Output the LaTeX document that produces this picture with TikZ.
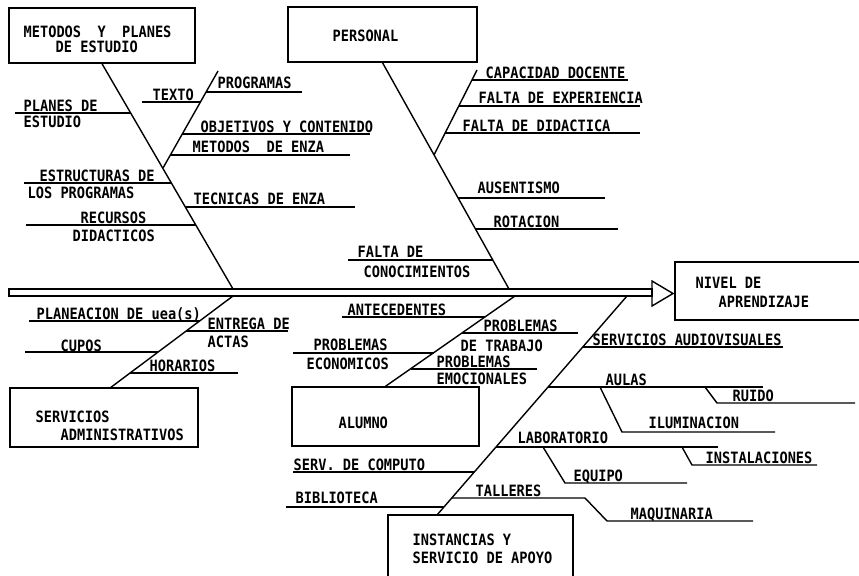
\documentclass[tikz,border=0pt]{standalone}
\usepackage{fontspec}
\newfontfamily\fishfont[FakeStretch=0.875]{DejaVu Sans Mono}
\tikzset{
  box/.style={draw, line width=1.2pt, inner sep=0pt},
  lbl/.style={anchor=base west, inner sep=0pt, font=\fishfont\bfseries\fontsize{13.3}{15}\selectfont},
}
\begin{document}
\begin{tikzpicture}[x=0.03cm, y=-0.03cm, line width=1.2pt]
\useasboundingbox (0,0) rectangle (859,575);
\clip (0,0) rectangle (859,575);
% boxes
\node[box, minimum width=5.58cm, minimum height=1.65cm] (met) at (102,35.5){};
\node[box, minimum width=5.67cm, minimum height=1.65cm] (per) at (382.5,34.5){};
\node[box, minimum width=6.15cm, minimum height=1.74cm] (niv) at (777.5,291){};
\node[box, minimum width=5.64cm, minimum height=1.77cm] (adm) at (104,417.5){};
\node[box, minimum width=5.61cm, minimum height=1.77cm] (alu) at (385.5,416.5){};
\node[box, minimum width=5.55cm, minimum height=2.25cm] (ins) at (480.5,552.5){};
\node[lbl] (metT1) at (23,37){METODOS~~Y~~PLANES};
\node[lbl] (metT2) at (55,52){DE ESTUDIO};
\node[lbl] (perT) at (332,41){PERSONAL};
\node[lbl] (nivT1) at (695,288){NIVEL DE};
\node[lbl] (nivT2) at (718,307){APRENDIZAJE};
\node[lbl] (admT1) at (35,422){SERVICIOS};
\node[lbl] (admT2) at (60,440){ADMINISTRATIVOS};
\node[lbl] (aluT) at (338,428){ALUMNO};
\node[lbl] (insT1) at (412,545){INSTANCIAS Y};
\node[lbl] (insT2) at (412,563){SERVICIO DE APOYO};
% spine
\coordinate (sp0) at (9,289);
\coordinate (sp1) at (652,296);
\coordinate (tri1) at (652,281);
\coordinate (tri2) at (673,293.5);
\coordinate (tri3) at (652,306);
\draw[](sp0) rectangle (sp1);
\draw[line join=miter](tri1) -- (tri2) -- (tri3) -- cycle;
% main bones
\coordinate (s1) at (233,289);
\coordinate (s2) at (509,289);
\coordinate (s3) at (233,296);
\coordinate (s4) at (515,296);
\coordinate (s5) at (627,296);
\coordinate (adm0) at (110,388);
\coordinate (ins0) at (437,515);
\draw[](met.south) -- (s1);
\draw[](per.south) -- (s2);
\draw[](s3) -- (adm0);
\draw[](s4) -- (alu.north);
\draw[](s5) -- (ins0);
% metodos y planes
\coordinate (mb0) at (163,168);
\coordinate (mb1) at (218,71);
\draw[](mb0) -- (mb1);
\coordinate (plan0) at (15,113);
\coordinate (plan1) at (131,113);
\draw[](plan0) -- (plan1);
\node[lbl] (plan) at (23,111){PLANES DE};
\node[lbl] (planB) at (23,127){ESTUDIO};
\coordinate (estr0) at (24,183);
\coordinate (estr1) at (171.6,183);
\draw[](estr0) -- (estr1);
\node[lbl] (estr) at (39,181){ESTRUCTURAS DE};
\node[lbl] (estrB) at (27,198){LOS PROGRAMAS};
\coordinate (rec0) at (26,225);
\coordinate (rec1) at (195.9,225);
\draw[](rec0) -- (rec1);
\node[lbl] (rec) at (80,223){RECURSOS};
\node[lbl] (recB) at (72,241){DIDACTICOS};
\coordinate (tex0) at (142,102);
\coordinate (tex1) at (200.4,102);
\draw[](tex0) -- (tex1);
\node[lbl] (tex) at (152,100){TEXTO};
\coordinate (prog0) at (206.1,92);
\coordinate (prog1) at (302,92);
\draw[](prog0) -- (prog1);
\node[lbl] (prog) at (217,88){PROGRAMAS};
\coordinate (obj0) at (182.3,134);
\coordinate (obj1) at (370,134);
\draw[](obj0) -- (obj1);
\node[lbl] (obj) at (200,132){OBJETIVOS Y CONTENIDO};
\coordinate (mde0) at (170.4,155);
\coordinate (mde1) at (350,155);
\draw[](mde0) -- (mde1);
\node[lbl] (mde) at (192,152){METODOS~~DE ENZA};
\coordinate (tec0) at (185.5,207);
\coordinate (tec1) at (355,207);
\draw[](tec0) -- (tec1);
\node[lbl] (tec) at (193,204){TECNICAS DE ENZA};
% personal
\coordinate (pb0) at (434,155);
\coordinate (pb1) at (477,70);
\draw[](pb0) -- (pb1);
\coordinate (cap0) at (471.9,80);
\coordinate (cap1) at (628,80);
\draw[](cap0) -- (cap1);
\node[lbl] (cap) at (485,78){CAPACIDAD DOCENTE};
\coordinate (exp0) at (458.8,106);
\coordinate (exp1) at (640,106);
\draw[](exp0) -- (exp1);
\node[lbl] (exp) at (478,103){FALTA DE EXPERIENCIA};
\coordinate (did0) at (445.1,133);
\coordinate (did1) at (640,133);
\draw[](did0) -- (did1);
\node[lbl] (did) at (462,131){FALTA DE DIDACTICA};
\coordinate (aus0) at (458.3,198);
\coordinate (aus1) at (605,198);
\draw[](aus0) -- (aus1);
\node[lbl] (aus) at (477,193){AUSENTISMO};
\coordinate (rot0) at (475.6,229);
\coordinate (rot1) at (618,229);
\draw[](rot0) -- (rot1);
\node[lbl] (rot) at (493,227){ROTACION};
\coordinate (con0) at (348,260);
\coordinate (con1) at (492.8,260);
\draw[](con0) -- (con1);
\node[lbl] (con) at (357,257){FALTA DE};
\node[lbl] (conB) at (363,277){CONOCIMIENTOS};
% servicios administrativos
\coordinate (pla0) at (29,321);
\coordinate (pla1) at (199.6,321);
\draw[](pla0) -- (pla1);
\node[lbl] (pla) at (36,319){PLANEACION DE uea(s)};
\coordinate (ent0) at (186.2,331);
\coordinate (ent1) at (288,331);
\draw[](ent0) -- (ent1);
\node[lbl] (ent) at (207,329){ENTREGA DE};
\node[lbl] (entB) at (207,347){ACTAS};
\coordinate (cup0) at (25,352);
\coordinate (cup1) at (158.1,352);
\draw[](cup0) -- (cup1);
\node[lbl] (cup) at (60,351){CUPOS};
\coordinate (hor0) at (130.1,373);
\coordinate (hor1) at (238,373);
\draw[](hor0) -- (hor1);
\node[lbl] (hor) at (149,371){HORARIOS};
% alumno
\coordinate (ant0) at (342,317);
\coordinate (ant1) at (485.1,317);
\draw[](ant0) -- (ant1);
\node[lbl] (ant) at (347,315){ANTECEDENTES};
\coordinate (trb0) at (462.3,333);
\coordinate (trb1) at (578,333);
\draw[](trb0) -- (trb1);
\node[lbl] (trb) at (483,331){PROBLEMAS};
\node[lbl] (trbB) at (460,351){DE TRABAJO};
\coordinate (eco0) at (293,353);
\coordinate (eco1) at (433.9,353);
\draw[](eco0) -- (eco1);
\node[lbl] (eco) at (313,350){PROBLEMAS};
\node[lbl] (ecoB) at (306,369){ECONOMICOS};
\coordinate (emo0) at (411.1,369);
\coordinate (emo1) at (537,369);
\draw[](emo0) -- (emo1);
\node[lbl] (emo) at (436,367){PROBLEMAS};
\node[lbl] (emoB) at (436,384){EMOCIONALES};
% instancias y servicio de apoyo
\coordinate (aud0) at (582.8,347);
\coordinate (aud1) at (783,347);
\draw[](aud0) -- (aud1);
\node[lbl] (aud) at (592,345){SERVICIOS AUDIOVISUALES};
\coordinate (aul0) at (548,387);
\coordinate (aul1) at (763,387);
\draw[](aul0) -- (aul1);
\node[lbl] (aul) at (605,385){AULAS};
\coordinate (ilu0) at (600,387);
\coordinate (ilu1) at (622,432);
\coordinate (ilu2) at (775,432);
\draw[](ilu0) -- (ilu1) -- (ilu2);
\node[lbl] (ilu) at (648,428){ILUMINACION};
\coordinate (rui0) at (705,387);
\coordinate (rui1) at (717,403);
\coordinate (rui2) at (855,403);
\draw[](rui0) -- (rui1) -- (rui2);
\node[lbl] (rui) at (732,401){RUIDO};
\coordinate (lab0) at (496,447);
\coordinate (lab1) at (718,447);
\draw[](lab0) -- (lab1);
\node[lbl] (lab) at (517,443){LABORATORIO};
\coordinate (equ0) at (543,447);
\coordinate (equ1) at (565,483);
\coordinate (equ2) at (687,483);
\draw[](equ0) -- (equ1) -- (equ2);
\node[lbl] (equ) at (573,481){EQUIPO};
\coordinate (ist0) at (682,447);
\coordinate (ist1) at (692,465);
\coordinate (ist2) at (817,465);
\draw[](ist0) -- (ist1) -- (ist2);
\node[lbl] (ist) at (705,463){INSTALACIONES};
\coordinate (tal0) at (451.7,498);
\coordinate (tal1) at (585,498);
\coordinate (tal2) at (607,521);
\coordinate (tal3) at (753,521);
\draw[](tal0) -- (tal1) -- (tal2) -- (tal3);
\node[lbl] (tal) at (475,496){TALLERES};
\node[lbl] (maq) at (630,519){MAQUINARIA};
\coordinate (com0) at (293,472);
\coordinate (com1) at (474.3,472);
\draw[](com0) -- (com1);
\node[lbl] (com) at (293,470){SERV. DE COMPUTO};
\coordinate (bib0) at (286,507);
\coordinate (bib1) at (443.9,507);
\draw[](bib0) -- (bib1);
\node[lbl] (bib) at (295,503){BIBLIOTECA};
\end{tikzpicture}
\end{document}
